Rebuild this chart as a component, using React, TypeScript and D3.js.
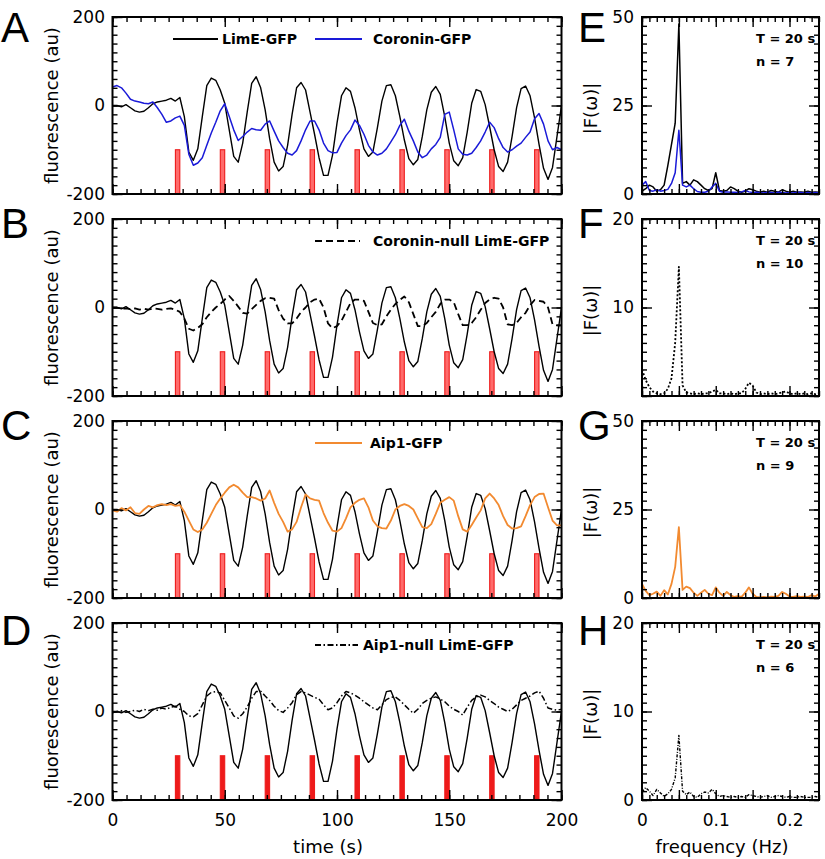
import React, { useEffect, useRef } from 'react';
import * as d3 from 'd3';

// sample grids: time traces every 2 s, spectra every 0.005 Hz
const timeS = d3.range(0, 201, 2);
const freqHz = d3.range(0, 49).map((i) => +(i * 0.005).toFixed(3));
const stimulusTimes = [29, 49, 69, 89, 109, 129, 149, 169, 189];

// fluorescence traces (au)
const limeGFP = [
  0, 0, -3, 2, -5, -12, -15, -13, -5, 4,
  8, 10, 12, 16, 10, 18, -25, -105, -124, -98,
  -25, 45, 62, 57, 35, 5, -55, -115, -128, -85,
  -15, 50, 65, 40, -10, -75, -128, -148, -138, -90,
  -20, 40, 52, 35, -15, -65, -118, -158, -158, -112,
  -40, 22, 40, 32, -5, -55, -98, -115, -105, -50,
  10, 45, 47, 22, -25, -78, -120, -134, -122, -70,
  -10, 30, 43, 25, -25, -85, -125, -136, -118, -60,
  5, 36, 32, 2, -48, -100, -138, -149, -128, -70,
  -5, 38, 44, 22, -28, -88, -142, -167, -140, -70,
  0,
];
const coroninGFP = [
  42, 45, 40, 28, 14, 10, 8, 5, 4, 8,
  -5, -20, -38, -35, -28, -24, -45, -110, -135, -130,
  -118, -90, -62, -38, -12, 4, -25, -55, -79, -70,
  -60, -52, -55, -56, -42, -35, -58, -80, -95, -108,
  -112, -102, -80, -55, -35, -35, -55, -85, -102, -107,
  -106, -85, -68, -55, -33, -45, -65, -90, -105, -112,
  -108, -98, -82, -66, -45, -31, -58, -80, -105, -118,
  -112, -98, -88, -72, -20, -15, -55, -98, -110, -112,
  -108, -95, -80, -60, -38, -50, -75, -95, -105, -100,
  -92, -85, -72, -60, -30, -18, -42, -80, -100, -95,
  -100,
];
const coroninNullLimE = [
  0, 0, -3, -2, -4, -2, -5, -3, -5, -2,
  -3, -5, -3, -2, -5, -10, -25, -48, -52, -46,
  -38, -22, -10, 0, 8, 18, 26, 15, 2, -12,
  -14, -4, 6, 15, 21, 22, 20, -6, -25, -36,
  -36, -25, -10, 0, 12, 18, 20, 0, -36, -47,
  -42, -30, -10, 10, 18, 18, 15, -10, -35, -40,
  -38, -20, -5, 8, 17, 25, 12, -15, -42, -42,
  -35, -22, -10, 8, 18, 18, 12, -15, -40, -40,
  -35, -22, -5, 10, 18, 22, 20, 0, -38, -40,
  -35, -22, -12, 5, 17, 15, 13, 0, -38, -40,
  -40,
];
const aip1GFP = [
  -2, -5, 3, -2, 5, -8, -10, 0, 8, 5,
  10, 12, 10, 12, 8, 10, -5, -25, -45, -51,
  -45, -30, -10, 10, 25, 38, 50, 56, 50, 38,
  28, 28, 25, 20, 25, 43, 15, -10, -28, -50,
  -45, -28, 5, 34, 25, 22, 20, -8, -30, -48,
  -50, -42, -20, 5, 15, 22, 25, 5, -25, -38,
  -42, -43, -25, 0, 8, 12, 8, 0, -20, -40,
  -42, -33, -10, 15, 22, 28, 20, -15, -45, -50,
  -35, -18, -2, 25, 36, 25, 10, -15, -35, -43,
  -42, -38, -15, 10, 28, 35, 36, 5, -25, -36,
  -36,
];
const aip1NullLimE = [
  -3, 0, 2, -2, 0, 3, 0, 5, 2, 5,
  3, 8, 5, 10, 12, 5, 0, -10, -12, -5,
  15, 35, 43, 45, 42, 25, 8, -10, -15, -5,
  10, 30, 45, 46, 35, 25, 12, 2, -2, 8,
  20, 38, 45, 42, 37, 32, 28, 15, 4, 8,
  20, 35, 45, 42, 37, 30, 22, 15, 8, 4,
  15, 27, 32, 33, 25, 15, 5, -4, 5, 18,
  25, 30, 33, 28, 22, 12, 5, 0, -8, 10,
  25, 33, 37, 33, 25, 18, 10, 5, 0, 5,
  15, 25, 30, 35, 42, 46, 30, 8, 5, 3,
  5,
];

// Fourier amplitudes |F(w)|
const specLimE = [
  0.8, 1.5, 2.5, 2, 0.8, 1.2, 2.5, 8, 14, 20,
  48, 3, 3.5, 2.5, 4, 3.5, 2.5, 1.5, 1, 1.5,
  6, 1, 0.8, 1, 2, 1.5, 0.8, 0.5, 0.8, 1.5,
  1.2, 0.8, 0.5, 0.8, 0.5, 1, 0.8, 0.5, 1.2, 0.8,
  0.5, 0.8, 0.5, 0.6, 0.5, 0.8, 0.5, 0.6, 0.5,
];
const specCoronin = [
  2.5, 3.5, 1, 0.8, 1.2, 0.8, 1, 1.3, 3, 6,
  18, 2.5, 2, 2.5, 1.5, 0.7, 0.5, 0.5, 0.8, 2,
  3, 0.8, 0.5, 0.6, 0.5, 0.5, 0.4, 0.6, 1, 0.6,
  0.4, 0.5, 0.4, 0.3, 0.5, 0.4, 0.3, 0.5, 0.4, 0.3,
  0.4, 0.3, 0.5, 0.4, 0.3, 0.4, 0.3, 0.4, 0.3,
];
const specCoroninNull = [
  3, 1.8, 1, 0.5, 0.3, 0.2, 0.3, 0.8, 2, 6,
  14.6, 1.2, 0.4, 0.3, 0.2, 0.3, 0.2, 0.3, 0.3, 0.5,
  0.7, 0.3, 0.3, 0.2, 0.3, 0.2, 0.3, 0.3, 0.8, 1.5,
  1.2, 0.4, 0.2, 0.3, 0.2, 0.3, 0.2, 0.3, 0.4, 0.5,
  0.3, 0.2, 0.3, 0.2, 0.3, 0.2, 0.3, 0.2, 0.3,
];
const specAip1 = [
  4, 2, 0.8, 1.2, 1.8, 0.6, 2.2, 1, 4, 8.8,
  20, 2.3, 3.2, 2.8, 1.5, 0.6, 1.5, 2.3, 1.2, 0.8,
  3, 1.5, 0.6, 1.7, 0.8, 0.3, 0.5, 0.3, 1.5, 3,
  1.2, 0.3, 0.2, 0.3, 0.2, 0.4, 0.3, 0.6, 1.7, 1.2,
  0.4, 0.3, 0.5, 0.3, 0.4, 0.3, 0.8, 0.4, 1.2,
];
const specAip1Null = [
  0.9, 1.4, 1, 0.5, 1.2, 0.8, 0.4, 0.7, 1.2, 2.5,
  7.3, 1, 0.6, 0.9, 0.4, 0.3, 0.7, 0.9, 0.8, 1.2,
  0.7, 0.4, 0.5, 0.4, 0.3, 0.4, 0.3, 0.4, 0.3, 0.6,
  0.5, 0.4, 0.3, 0.4, 0.5, 0.3, 0.4, 0.5, 0.4, 0.3,
  0.4, 0.3, 0.3, 0.4, 0.3, 0.3, 0.3, 0.4, 0.3,
];

const timeTicks = [0, 50, 100, 150, 200];
const fluorTicks = [-200, 0, 200];
const freqTicks = [0, 0.1, 0.2];

const BLACK = '#000';
const BLUE = '#1a1ad8';
const ORANGE = '#f28a30';
const RED = '#ee1b1b';
const DASHED = '7,4';
const DASHDOT = '6,2.5,1.5,2.5';

const rows = [
  {
    letter: 'A', specLetter: 'E', letterY: 42, n: 7,
    specMax: 50, specLabels: [0, 25, 50], specMinor: 2.5, specMajor: 25,
    barFill: '#ff6b6b',
    traces: [
      { values: limeGFP, color: BLACK, dash: null, width: 1.4 },
      { values: coroninGFP, color: BLUE, dash: null, width: 1.5 },
    ],
    legend: [
      { label: 'LimE-GFP', color: BLACK, dash: null, x0: 173, x1: 218, tx: 222 },
      { label: 'Coronin-GFP', color: BLUE, dash: null, x0: 315, x1: 362, tx: 373 },
    ],
    spectra: [
      { values: specLimE, color: BLACK, dash: null, width: 1.5 },
      { values: specCoronin, color: BLUE, dash: null, width: 1.5 },
    ],
  },
  {
    letter: 'B', specLetter: 'F', letterY: 238, n: 10,
    specMax: 20, specLabels: [10, 20], specMinor: 1, specMajor: 10,
    barFill: '#ff6b6b',
    traces: [
      { values: limeGFP, color: BLACK, dash: null, width: 1.4 },
      { values: coroninNullLimE, color: BLACK, dash: DASHED, width: 1.8 },
    ],
    legend: [
      { label: 'Coronin-null LimE-GFP', color: BLACK, dash: DASHED, x0: 315, x1: 360, tx: 373 },
    ],
    spectra: [{ values: specCoroninNull, color: BLACK, dash: '2,2', width: 1.8 }],
  },
  {
    letter: 'C', specLetter: 'G', letterY: 440, n: 9,
    specMax: 50, specLabels: [0, 25, 50], specMinor: 2.5, specMajor: 25,
    barFill: '#ff6b6b',
    traces: [
      { values: limeGFP, color: BLACK, dash: null, width: 1.4 },
      { values: aip1GFP, color: ORANGE, dash: null, width: 1.8 },
    ],
    legend: [
      { label: 'Aip1-GFP', color: ORANGE, dash: null, x0: 315, x1: 362, tx: 370 },
    ],
    spectra: [{ values: specAip1, color: ORANGE, dash: null, width: 1.8 }],
  },
  {
    letter: 'D', specLetter: 'H', letterY: 645, n: 6,
    specMax: 20, specLabels: [0, 10, 20], specMinor: 1, specMajor: 10,
    barFill: RED,
    traces: [
      { values: limeGFP, color: BLACK, dash: null, width: 1.4 },
      { values: aip1NullLimE, color: BLACK, dash: DASHDOT, width: 1.5 },
    ],
    legend: [
      { label: 'Aip1-null LimE-GFP', color: BLACK, dash: DASHDOT, x0: 315, x1: 358, tx: 363 },
    ],
    spectra: [{ values: specAip1Null, color: BLACK, dash: '3,1.5,1,1.5', width: 1.4 }],
  },
];

const FONT = '"DejaVu Sans", Verdana, sans-serif';
const LETTER_FONT = '"Liberation Sans", Arial, sans-serif';

// inward ticks on all four sides plus a heavy frame
function drawFrame(g, xs, ys, xMajor, xMinor, yMajor, yMinor) {
  const [x0, x1] = xs.range();
  const [y0, y1] = ys.range();
  const add = (axis, transform) =>
    g.append('g')
      .attr('transform', transform)
      .call(axis.tickFormat(() => ''))
      .call((s) => s.select('.domain').remove())
      .call((s) => s.selectAll('line').attr('stroke-width', 1.4));

  add(d3.axisBottom(xs).tickValues(xMinor).tickSize(-5), `translate(0,${y0})`);
  add(d3.axisBottom(xs).tickValues(xMajor).tickSize(-10), `translate(0,${y0})`);
  add(d3.axisTop(xs).tickValues(xMinor).tickSize(-5), `translate(0,${y1})`);
  add(d3.axisTop(xs).tickValues(xMajor).tickSize(-10), `translate(0,${y1})`);
  add(d3.axisLeft(ys).tickValues(yMinor).tickSize(-5), `translate(${x0},0)`);
  add(d3.axisLeft(ys).tickValues(yMajor).tickSize(-10), `translate(${x0},0)`);
  add(d3.axisRight(ys).tickValues(yMinor).tickSize(-5), `translate(${x1},0)`);
  add(d3.axisRight(ys).tickValues(yMajor).tickSize(-10), `translate(${x1},0)`);

  g.append('rect')
    .attr('x', x0)
    .attr('y', y1)
    .attr('width', x1 - x0)
    .attr('height', y0 - y1)
    .attr('fill', 'none')
    .attr('stroke', '#000')
    .attr('stroke-width', 2);
}

function labelAxis(g, axis, transform, size) {
  g.append('g')
    .attr('transform', transform)
    .call(axis)
    .call((s) => s.select('.domain').remove())
    .call((s) => s.selectAll('line').remove())
    .call((s) => s.selectAll('text').attr('font-family', FONT).attr('font-size', size).attr('fill', '#000'));
}

export default function App() {
  const ref = useRef(null);

  useEffect(() => {
    const svg = d3.select(ref.current);
    svg.selectAll('*').remove();

    const panelH = 177;
    const rowStep = 202;
    const x = d3.scaleLinear().domain([0, 200]).range([112.5, 561.5]);
    const fx = d3.scaleLinear().domain([0, 0.24]).range([642, 819]);

    rows.forEach((row, i) => {
      const top = 17 + i * rowStep;
      const bottom = top + panelH;
      const isLast = i === rows.length - 1;

      // ---- time trace panel ----
      const y = d3.scaleLinear().domain([-200, 200]).range([bottom, top]);
      const g = svg.append('g');

      g.selectAll('rect.stim')
        .data(stimulusTimes)
        .join('rect')
        .attr('class', 'stim')
        .attr('x', (d) => x(d) - 2.2)
        .attr('width', 4.4)
        .attr('y', y(-100))
        .attr('height', y(-200) - y(-100))
        .attr('fill', row.barFill)
        .attr('stroke', RED)
        .attr('stroke-width', 1.1);

      const line = d3.line().x((_, k) => x(timeS[k])).y((d) => y(d));
      row.traces.forEach((tr) => {
        g.append('path')
          .datum(tr.values)
          .attr('fill', 'none')
          .attr('stroke', tr.color)
          .attr('stroke-width', tr.width)
          .attr('stroke-dasharray', tr.dash)
          .attr('stroke-linejoin', 'round')
          .attr('d', line);
      });

      drawFrame(g, x, y, timeTicks, d3.range(0, 200.01, 6.25), fluorTicks, d3.range(-200, 200.01, 20));
      labelAxis(g, d3.axisLeft(y).tickValues(fluorTicks).tickSize(0).tickPadding(7.5).tickFormat((d) => String(d)), `translate(${x.range()[0]},0)`, 17);
      if (isLast) {
        labelAxis(g, d3.axisBottom(x).tickValues(timeTicks).tickSize(0).tickPadding(14).tickFormat((d) => String(d)), `translate(0,${bottom})`, 17);
      }

      // legend
      row.legend.forEach((lg) => {
        const ly = top + 22;
        g.append('line')
          .attr('x1', lg.x0).attr('x2', lg.x1)
          .attr('y1', ly).attr('y2', ly)
          .attr('stroke', lg.color)
          .attr('stroke-width', 2)
          .attr('stroke-dasharray', lg.dash);
        g.append('text')
          .attr('x', lg.tx).attr('y', ly).attr('dy', '0.36em')
          .attr('font-family', FONT).attr('font-size', 14).attr('font-weight', 'bold')
          .text(lg.label);
      });

      svg.append('text')
        .attr('transform', `translate(52,${top + panelH / 2}) rotate(-90)`)
        .attr('text-anchor', 'middle').attr('dy', '0.35em')
        .attr('font-family', FONT).attr('font-size', 18)
        .text('fluorescence (au)');

      svg.append('text')
        .attr('x', 1).attr('y', row.letterY)
        .attr('font-family', LETTER_FONT).attr('font-size', 42)
        .text(row.letter);

      // ---- spectrum panel ----
      const sy = d3.scaleLinear().domain([0, row.specMax]).range([bottom, top]);
      const sg = svg.append('g');
      const sline = d3.line().x((_, k) => fx(freqHz[k])).y((d) => sy(d));
      row.spectra.forEach((sp) => {
        sg.append('path')
          .datum(sp.values)
          .attr('fill', 'none')
          .attr('stroke', sp.color)
          .attr('stroke-width', sp.width)
          .attr('stroke-dasharray', sp.dash)
          .attr('stroke-linejoin', 'round')
          .attr('d', sline);
      });

      drawFrame(
        sg, fx, sy,
        [0, 0.05, 0.1, 0.15, 0.2],
        d3.range(0, 0.2401, 0.01),
        d3.range(0, row.specMax + 0.01, row.specMajor),
        d3.range(0, row.specMax + 0.01, row.specMinor),
      );
      labelAxis(sg, d3.axisLeft(sy).tickValues(row.specLabels).tickSize(0).tickPadding(8).tickFormat((d) => String(d)), `translate(${fx.range()[0]},0)`, 17);
      if (isLast) {
        labelAxis(sg, d3.axisBottom(fx).tickValues(freqTicks).tickSize(0).tickPadding(14).tickFormat((d) => String(d)), `translate(0,${bottom})`, 17);
      }

      sg.append('text')
        .attr('x', 756).attr('y', top + 26)
        .attr('font-family', FONT).attr('font-size', 13).attr('font-weight', 'bold')
        .text('T = 20 s');
      sg.append('text')
        .attr('x', 756).attr('y', top + 49)
        .attr('font-family', FONT).attr('font-size', 13).attr('font-weight', 'bold')
        .text(`n = ${row.n}`);

      svg.append('text')
        .attr('transform', `translate(591,${top + panelH / 2 + 3}) rotate(-90)`)
        .attr('text-anchor', 'middle').attr('dy', '0.35em')
        .attr('font-family', FONT).attr('font-size', 18)
        .text('|F(ω)|');

      svg.append('text')
        .attr('x', 578).attr('y', row.letterY)
        .attr('font-family', LETTER_FONT).attr('font-size', 42)
        .text(row.specLetter);
    });

    svg.append('text')
      .attr('x', 328).attr('y', 853)
      .attr('text-anchor', 'middle')
      .attr('font-family', FONT).attr('font-size', 18)
      .text('time (s)');

    svg.append('text')
      .attr('x', 722).attr('y', 853)
      .attr('text-anchor', 'middle')
      .attr('font-family', FONT).attr('font-size', 18)
      .text('frequency (Hz)');
  }, []);

  return (
    <svg
      ref={ref}
      width={825}
      height={859}
      style={{ position: 'absolute', left: 0, top: 0, background: '#fff' }}
    />
  );
}
